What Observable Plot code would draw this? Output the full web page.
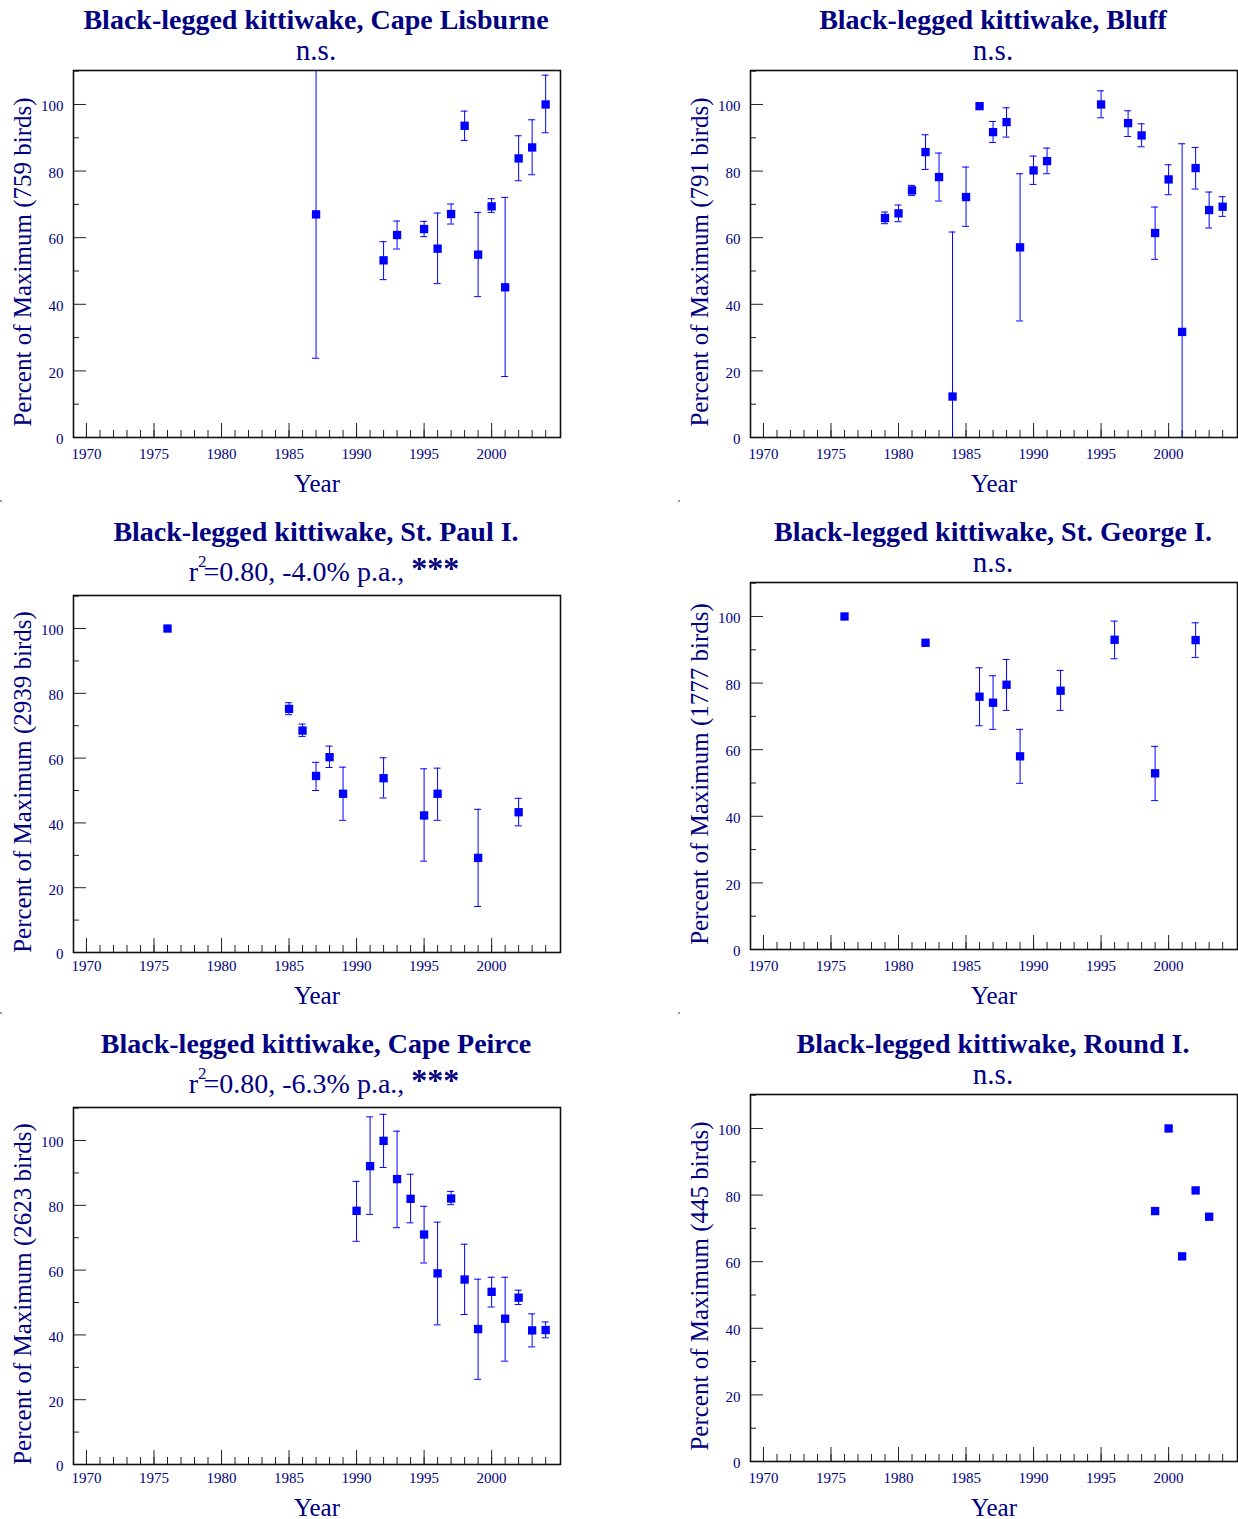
<!DOCTYPE html>
<html>
<head>
<meta charset="utf-8">
<script src="https://cdn.jsdelivr.net/npm/d3@7"></script>
<script src="https://cdn.jsdelivr.net/npm/@observablehq/plot@0.6"></script>
<style>
  body { margin: 0; background: #fff; }
  #page { position: relative; width: 1238px; height: 1519px; overflow: hidden;
          font-family: "Liberation Serif", "Times New Roman", serif; color: #000080; }
  .panel { position: absolute; width: 632px; height: 512px; }
  .title { position: absolute; left: 0; width: 632px; top: 6px; text-align: center;
           font-weight: bold; font-size: 28px; line-height: 28px; white-space: nowrap; }
  .sub { position: absolute; left: 0; width: 632px; text-align: center; white-space: nowrap; }
  .sub.ns { top: 37px; font-size: 29px; line-height: 27px; }
  .sub.r2 { top: 45px; font-size: 28px; line-height: 26px; padding-left: 16px; box-sizing: border-box; }
  .sub.r2 .sup { font-size: 17px; position: relative; top: -14px; margin-right: -3px; }
  .sub.r2 b { font-size: 32px; position: relative; top: -2px; }
  .panel svg { position: absolute; left: 0; top: 60px; }
  .speck { position: absolute; width: 2px; height: 2px; background: #999; }
</style>
</head>
<body>
<div id="page"></div>
<script>
// ---------- data ----------
const titles = [
  "Black-legged kittiwake, Cape Lisburne",
  "Black-legged kittiwake, Bluff",
  "Black-legged kittiwake, St. Paul I.",
  "Black-legged kittiwake, St. George I.",
  "Black-legged kittiwake, Cape Peirce",
  "Black-legged kittiwake, Round I."
];
const birdCounts = [759, 791, 2939, 1777, 2623, 445];
const r2Values = [null, null, "0.80", null, "0.80", null];
const trends = [null, null, "-4.0% p.a.,", null, "-6.3% p.a.,", null];
const significance = [null, null, "***", null, "***", null];

const xTickLabels = [1970, 1975, 1980, 1985, 1990, 1995, 2000];
const yTickLabels = [0, 20, 40, 60, 80, 100];

// Cape Lisburne
const yearsLisburne = [1987, 1992, 1993, 1995, 1996, 1997, 1998, 1999, 2000, 2001, 2002, 2003, 2004];
const pctLisburne   = [67.0, 53.2, 60.8, 62.6, 56.7, 67.1, 93.6, 54.9, 69.4, 45.1, 83.8, 87.1, 100.0];
const loLisburne    = [23.8, 47.4, 56.6, 60.3, 46.2, 64.1, 89.2, 42.3, 67.6, 18.3, 77.1, 78.9, 91.5];
const hiLisburne    = [110.2, 58.8, 65.0, 64.9, 67.4, 70.1, 98.0, 67.6, 71.7, 72.1, 90.6, 95.4, 108.8];

// Bluff
const yearsBluff = [1979, 1980, 1981, 1982, 1983, 1984, 1985, 1986, 1987, 1988, 1989, 1990, 1991, 1995, 1997, 1998, 1999, 2000, 2001, 2002, 2003, 2004];
const pctBluff   = [65.9, 67.3, 74.2, 85.7, 78.2, 12.3, 72.2, 99.5, 91.7, 94.7, 57.1, 80.2, 83.0, 100.0, 94.4, 90.7, 61.4, 77.5, 31.7, 80.9, 68.3, 69.3];
const loBluff    = [64.2, 64.8, 72.7, 80.5, 71.0, -37.0, 63.4, null, 88.6, 90.2, 35.0, 76.0, 79.2, 96.0, 90.4, 87.3, 53.5, 72.9, -25.0, 74.6, 62.9, 66.4];
const hiBluff    = [67.7, 69.8, 75.7, 90.9, 85.4, 61.7, 81.2, null, 94.9, 99.0, 79.2, 84.5, 86.9, 104.1, 98.1, 94.2, 69.2, 81.9, 88.2, 87.1, 73.7, 72.3];

// St. Paul I.
const yearsStPaul = [1976, 1985, 1986, 1987, 1988, 1989, 1992, 1995, 1996, 1999, 2002];
const pctStPaul   = [100.0, 75.2, 68.5, 54.5, 60.3, 49.0, 53.8, 42.3, 49.0, 29.2, 43.3];
const loStPaul    = [null, 73.4, 66.7, 50.0, 57.1, 40.8, 47.7, 28.2, 40.8, 14.2, 39.1];
const hiStPaul    = [null, 77.1, 70.5, 58.7, 63.7, 57.2, 60.1, 56.7, 56.9, 44.2, 47.6];

// St. George I.
const yearsStGeorge = [1976, 1982, 1986, 1987, 1988, 1989, 1992, 1996, 1999, 2002];
const pctStGeorge   = [100.0, 92.1, 75.9, 74.1, 79.5, 58.0, 77.7, 93.0, 52.9, 92.9];
const loStGeorge    = [null, null, 67.2, 66.1, 71.8, 49.9, 71.8, 87.3, 44.7, 87.7];
const hiStGeorge    = [null, null, 84.6, 82.2, 87.1, 66.1, 83.8, 98.6, 61.0, 98.1];

// Cape Peirce
const yearsPeirce = [1990, 1991, 1992, 1993, 1994, 1995, 1996, 1997, 1998, 1999, 2000, 2001, 2002, 2003, 2004];
const pctPeirce   = [78.3, 92.1, 99.9, 88.1, 82.0, 71.0, 59.0, 82.1, 57.1, 41.8, 53.3, 45.0, 51.5, 41.4, 41.5];
const loPeirce    = [68.9, 77.2, 91.7, 73.1, 74.6, 62.2, 43.1, 80.2, 46.3, 26.3, 48.6, 31.9, 49.4, 36.3, 39.1];
const hiPeirce    = [87.4, 107.3, 108.1, 102.9, 89.6, 79.7, 74.8, 84.3, 68.0, 57.2, 57.8, 57.8, 53.8, 46.5, 44.0];

// Round I.
const yearsRound = [1999, 2000, 2001, 2002, 2003];
const pctRound   = [75.2, 100.0, 61.6, 81.4, 73.5];
const loRound    = [null, null, null, null, null];
const hiRound    = [null, null, null, null, null];

// ---------- drawing ----------
const NAVY = "#000080";
const BLUE = "#0000ff";
const page = document.getElementById("page");

function buildRows(years, pct, lo, hi) {
  return years.map((year, i) => ({year, pct: pct[i], lo: lo[i], hi: hi[i]}));
}

function makePanel(i, left, top, years, pct, lo, hi) {
  const hasR2 = r2Values[i] !== null;
  const rows = buildRows(years, pct, lo, hi);
  const errRows = rows.filter(d => d.lo !== null && d.hi !== null);

  const div = document.createElement("div");
  div.className = "panel";
  div.style.left = left + "px";
  div.style.top = top + "px";

  const t = document.createElement("div");
  t.className = "title";
  t.textContent = titles[i];
  div.appendChild(t);

  const s = document.createElement("div");
  if (hasR2) {
    s.className = "sub r2";
    s.innerHTML = `r<span class="sup">2</span>=${r2Values[i]}, ${trends[i]} <b>${significance[i]}</b>`;
  } else {
    s.className = "sub ns";
    s.textContent = "n.s.";
  }
  div.appendChild(s);

  const svgTop = 60, H = 440;
  const frameTop = hasR2 ? 83 : 70;
  const frameBottom = hasR2 ? 440 : 437;
  const frameH = frameBottom - frameTop;
  const tickLabelOffset = 454 - frameBottom;
  const yearLabelOffset = 483 - frameBottom;
  const minorX = d3.range(1970, 2005);
  const minorY = [10, 30, 50, 70, 90, 110];

  const chart = Plot.plot({
    width: 620,
    height: H,
    marginLeft: 73,
    marginRight: 60,
    marginTop: frameTop - svgTop,
    marginBottom: svgTop + H - frameBottom,
    x: {domain: [1969.04, 2005.1], axis: null},
    y: {domain: [0, 110.2], axis: null},
    style: {background: "transparent", overflow: "visible",
            fontFamily: '"Liberation Serif", "Times New Roman", serif'},
    marks: [
      // axis ticks (inward)
      Plot.tickX(minorX, {x: d => d, stroke: "#222", strokeWidth: 1, insetTop: frameH - 7}),
      Plot.tickX(xTickLabels, {x: d => d, stroke: "#222", strokeWidth: 1, insetTop: frameH - 14}),
      Plot.tickY(minorY, {y: d => d, stroke: "#222", strokeWidth: 1, insetRight: 487 - 6}),
      Plot.tickY(yTickLabels, {y: d => d, stroke: "#222", strokeWidth: 1, insetRight: 487 - 13}),
      // error bars
      Plot.ruleX(errRows, {x: "year", y1: "lo", y2: "hi", stroke: BLUE, strokeWidth: 1, clip: true}),
      Plot.ruleY(errRows, {y: "lo", x1: d => d.year - 0.26, x2: d => d.year + 0.26, stroke: BLUE, strokeWidth: 1, clip: true}),
      Plot.ruleY(errRows, {y: "hi", x1: d => d.year - 0.26, x2: d => d.year + 0.26, stroke: BLUE, strokeWidth: 1, clip: true}),
      // points
      Plot.dot(rows, {x: "year", y: "pct", symbol: "square", r: 4.7, fill: BLUE, stroke: "none"}),
      // frame
      Plot.frame({stroke: "#111", strokeWidth: 1.6}),
      // tick labels
      Plot.text(yTickLabels, {y: d => d, text: d => String(d), frameAnchor: "left", dx: -10, dy: 2,
                              textAnchor: "end", lineAnchor: "middle", fontSize: 15, fill: NAVY}),
      Plot.text(xTickLabels, {x: d => d, text: d => String(d), frameAnchor: "bottom", dy: tickLabelOffset,
                              textAnchor: "middle", lineAnchor: "middle", fontSize: 15, fill: NAVY}),
      // axis labels
      Plot.text(["Year"], {text: d => d, frameAnchor: "bottom", dy: yearLabelOffset, textAnchor: "middle",
                           lineAnchor: "middle", fontSize: 25, fill: NAVY}),
      Plot.text([`Percent of Maximum (${birdCounts[i]} birds)`], {text: d => d, frameAnchor: "left",
                dx: -51, dy: 8, rotate: -90, textAnchor: "middle", lineAnchor: "middle",
                fontSize: 25, fill: NAVY})
    ]
  });
  div.appendChild(chart);
  page.appendChild(div);
}

makePanel(0, 0, 0, yearsLisburne, pctLisburne, loLisburne, hiLisburne);
makePanel(1, 677, 0, yearsBluff, pctBluff, loBluff, hiBluff);
makePanel(2, 0, 512, yearsStPaul, pctStPaul, loStPaul, hiStPaul);
makePanel(3, 677, 512, yearsStGeorge, pctStGeorge, loStGeorge, hiStGeorge);
makePanel(4, 0, 1024, yearsPeirce, pctPeirce, loPeirce, hiPeirce);
makePanel(5, 677, 1024, yearsRound, pctRound, loRound, hiRound);

// small specks at the panel separations
[[0, 500], [678, 500], [0, 1012], [678, 1012]].forEach(([x, y]) => {
  const d = document.createElement("div");
  d.className = "speck";
  d.style.left = x + "px";
  d.style.top = y + "px";
  page.appendChild(d);
});
</script>
</body>
</html>
